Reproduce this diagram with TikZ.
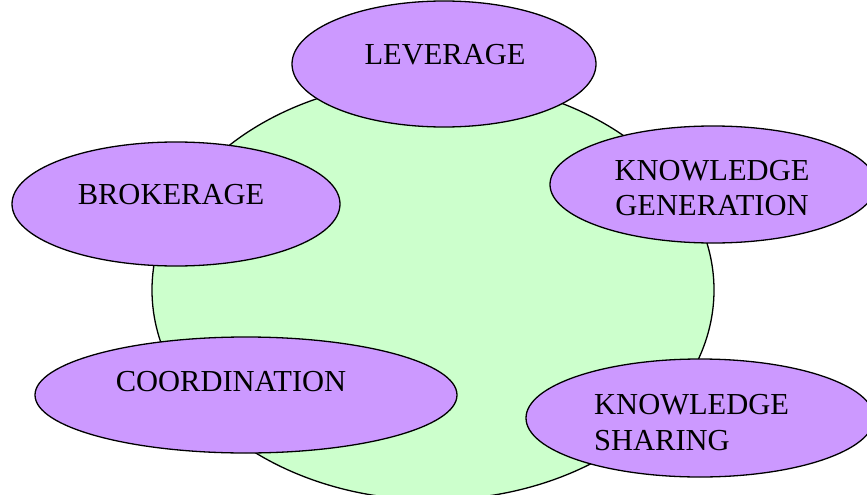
\documentclass[tikz,border=0pt]{standalone}
\usepackage{fontspec}
\setmainfont{Liberation Serif}
\usetikzlibrary{shapes.geometric}
\definecolor{lilac}{HTML}{CC99FF}
\definecolor{mint}{HTML}{CCFFCC}
\begin{document}
\begin{tikzpicture}[x=1pt,y=-1pt,
  blob/.style={ellipse,draw=black,line width=1.3pt,inner sep=0pt},
  petal/.style={blob,fill=lilac},
  lbl/.style={anchor=base,inner sep=0pt,font=\fontsize{30.5}{34}\selectfont}]
\useasboundingbox (0,0) rectangle (867,495);
\node[blob,fill=mint,minimum width=562pt,minimum height=420pt] (hub) at (433,290) {};
\node[petal,minimum width=304pt,minimum height=126pt] (lev) at (444,64) {};
\node[petal,minimum width=328pt,minimum height=124pt] (bro) at (176,204) {};
\node[petal,minimum width=326pt,minimum height=117pt] (kg) at (713,184.5) {};
\node[petal,minimum width=422pt,minimum height=116pt] (coo) at (246,395) {};
\node[petal,minimum width=348pt,minimum height=118pt] (ks) at (700,418) {};
\node[lbl] (levt) at (445,64) {LEVERAGE};
\node[lbl] (brot) at (171,204) {BROKERAGE};
\node[lbl] (kgt1) at (712,180) {KNOWLEDGE};
\node[lbl] (kgt2) at (712,215) {GENERATION};
\node[lbl] (coot) at (231,391) {COORDINATION};
\node[lbl,anchor=base west] (kst1) at (594,414) {KNOWLEDGE};
\node[lbl,anchor=base west] (kst2) at (594,450) {SHARING};
\end{tikzpicture}
\end{document}
